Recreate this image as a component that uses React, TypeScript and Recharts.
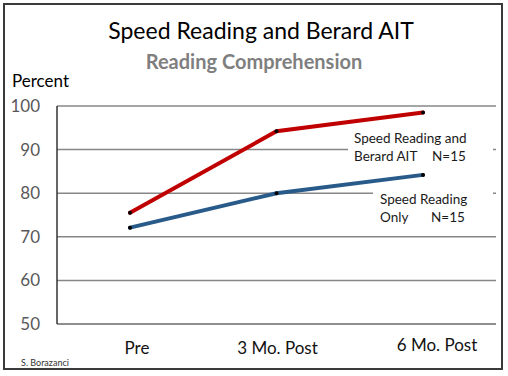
import React from 'react';
import { LineChart, Line, XAxis, YAxis, CartesianGrid } from 'recharts';

// Reading comprehension scores (percent)
const stages = ['Pre', '3 Mo. Post', '6 Mo. Post'];
const speedReadingAit = [75.5, 94.2, 98.5];
const speedReadingOnly = [72.1, 80, 84.2];
const yTicks = [50, 60, 70, 80, 90, 100];

// small nudges so the category labels sit where the original placed them
const labelDx = [7, 1, 14];
const labelDy = [0, 0, -3];

const data = stages.map((stage, i) => ({
  stage,
  ait: speedReadingAit[i],
  only: speedReadingOnly[i],
}));

const FONT = 'Lato, "Open Sans", sans-serif';
const RED = '#c00000';
const BLUE = '#285a8a';
const GRID = '#878787';

const StageTick = (props: any) => {
  const { x, y, payload } = props;
  const i = payload?.index ?? props.index ?? 0;
  return (
    <text
      x={x + labelDx[i]}
      y={y + labelDy[i]}
      dy="0.71em"
      textAnchor="middle"
      fill="#111"
      fontSize={17}
      fontFamily={FONT}
    >
      {payload.value}
    </text>
  );
};

const pointDot = { r: 2, fill: '#000', stroke: '#000', strokeWidth: 0 };

const App = () => {
  return (
    <div style={{ position: 'absolute', left: 0, top: 0, width: 508, height: 376, background: '#fff', fontFamily: FONT }}>
      <div
        style={{
          position: 'absolute',
          left: 3,
          top: 3,
          width: 500,
          height: 367,
          border: '2px solid #3a3a3a',
          boxSizing: 'border-box',
        }}
      />
      <LineChart
        width={508}
        height={376}
        data={data}
        margin={{ top: 106, right: 12, left: 12, bottom: 12 }}
        style={{ position: 'absolute', left: 0, top: 0 }}
      >
        <CartesianGrid vertical={false} stroke={GRID} strokeWidth={1.5} />
        <XAxis
          dataKey="stage"
          padding={{ left: 73, right: 73 }}
          height={40}
          tickLine={false}
          tickSize={0}
          tickMargin={18}
          axisLine={{ stroke: GRID, strokeWidth: 1.5 }}
          tick={<StageTick />}
        />
        <YAxis
          domain={[50, 100]}
          ticks={yTicks}
          width={45}
          tickLine={false}
          tickSize={0}
          tickMargin={17}
          axisLine={{ stroke: '#333', strokeWidth: 1.5 }}
          tick={{ fill: '#595959', fontSize: 17, fontFamily: FONT }}
        />
        <YAxis
          yAxisId="frame"
          orientation="right"
          domain={[50, 100]}
          width={0}
          tick={false}
          tickLine={false}
          axisLine={{ stroke: GRID, strokeWidth: 1.5 }}
        />
        <Line
          type="linear"
          dataKey="ait"
          stroke={RED}
          strokeWidth={4}
          strokeLinecap="round"
          dot={pointDot}
          activeDot={false}
          isAnimationActive={false}
        />
        <Line
          type="linear"
          dataKey="only"
          stroke={BLUE}
          strokeWidth={4}
          strokeLinecap="round"
          dot={pointDot}
          activeDot={false}
          isAnimationActive={false}
        />
      </LineChart>

      <div style={{ position: 'absolute', left: 0, width: 522, top: 16, textAlign: 'center', fontSize: 23, color: '#000', lineHeight: '28px' }}>
        Speed Reading and Berard AIT
      </div>
      <div style={{ position: 'absolute', left: 0, width: 508, top: 49, textAlign: 'center', fontSize: 20, fontWeight: 700, color: '#7f7f7f', lineHeight: '24px' }}>
        Reading Comprehension
      </div>
      <div style={{ position: 'absolute', left: 12, top: 70, fontSize: 17, color: '#000', lineHeight: '22px' }}>
        Percent
      </div>
      <div style={{ position: 'absolute', left: 21, top: 357, fontSize: 9, color: '#333', lineHeight: '12px' }}>
        S. Borazanci
      </div>

      <div style={{ position: 'absolute', left: 348, top: 128, width: 145, height: 37, background: '#fff', fontSize: 13.5, color: '#1a1a1a', lineHeight: '18px' }}>
        <div style={{ position: 'relative', left: 6, top: 1 }}>Speed Reading and</div>
        <div style={{ position: 'relative', left: 6, top: 1 }}>
          Berard AIT
          <span style={{ position: 'absolute', left: 78 }}>N=15</span>
        </div>
      </div>
      <div style={{ position: 'absolute', left: 373, top: 189, width: 120, height: 37, background: '#fff', fontSize: 13.5, color: '#1a1a1a', lineHeight: '18px' }}>
        <div style={{ position: 'relative', left: 7, top: 1 }}>Speed Reading</div>
        <div style={{ position: 'relative', left: 7, top: 1 }}>
          Only
          <span style={{ position: 'absolute', left: 51 }}>N=15</span>
        </div>
      </div>
    </div>
  );
};

export default App;
